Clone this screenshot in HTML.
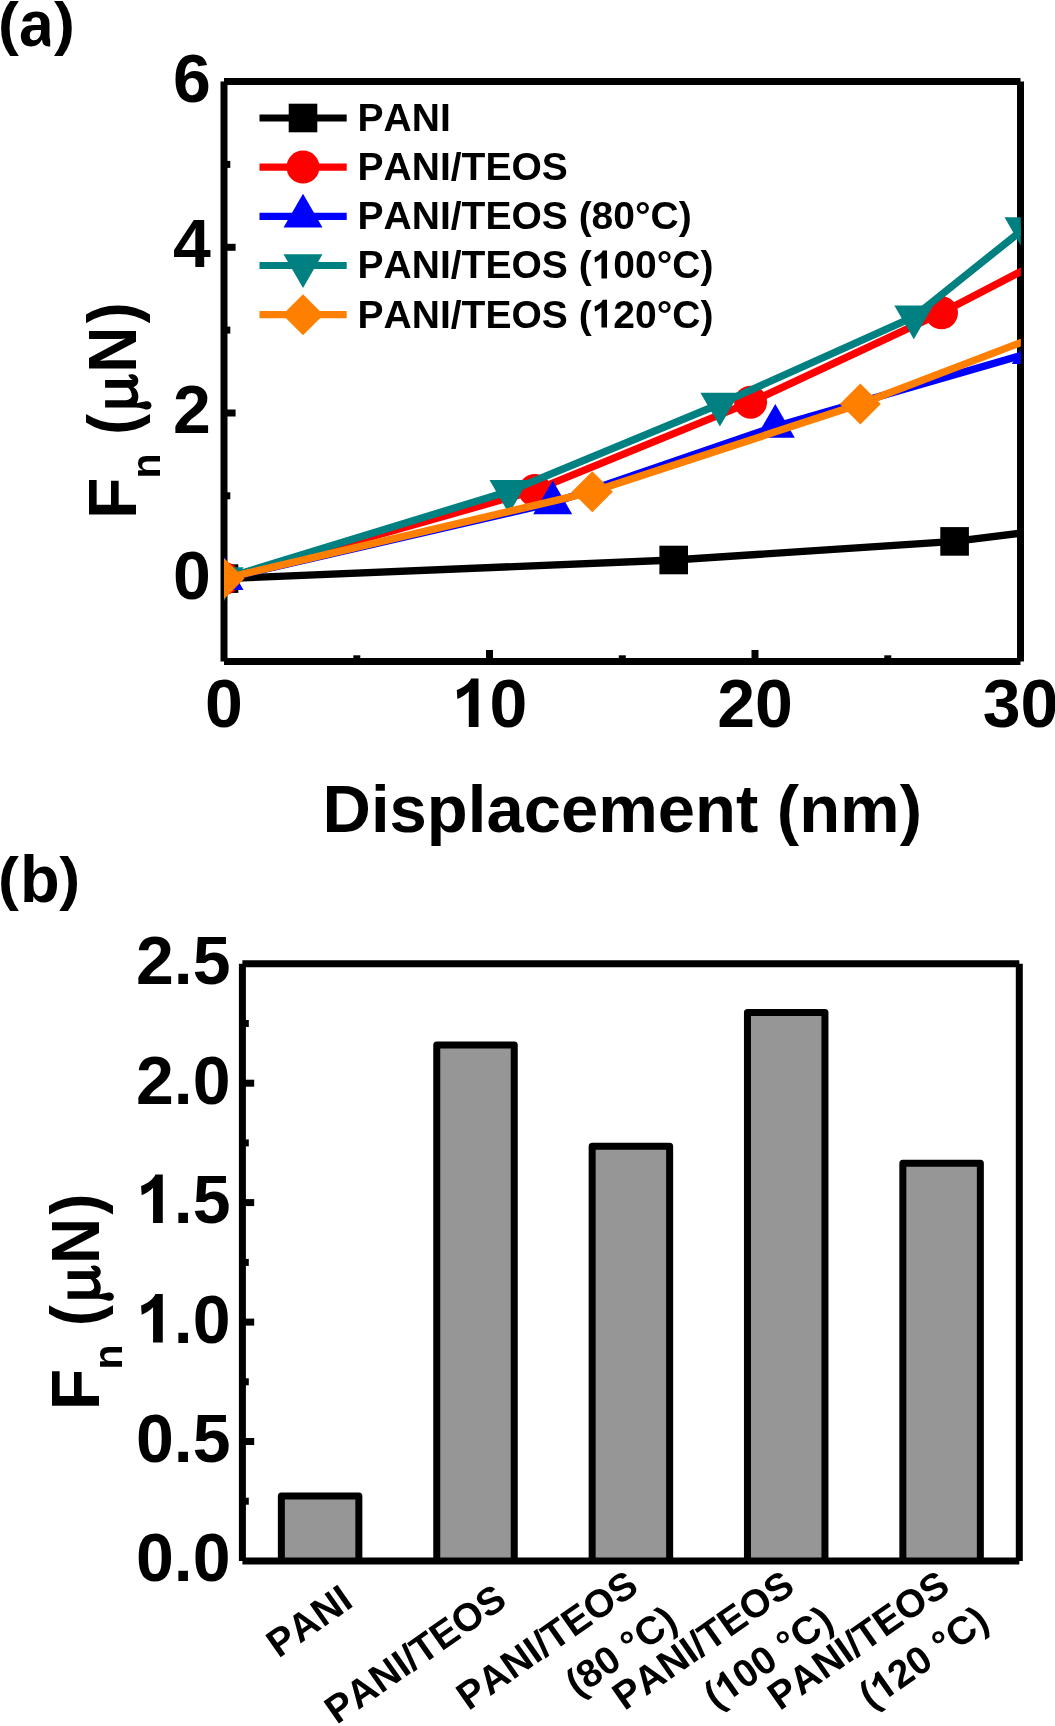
<!DOCTYPE html>
<html>
<head>
<meta charset="utf-8">
<title>Fn vs displacement</title>
<style>
html,body{margin:0;padding:0;background:#fff;}
body{width:1055px;height:1726px;overflow:hidden;position:relative;}
svg{position:absolute;left:0;top:0;display:block;will-change:transform;}
text{font-family:"Liberation Sans",sans-serif;font-weight:bold;fill:#000;font-kerning:none;}
.ax{stroke:#000;stroke-width:7;stroke-linecap:butt;fill:none;}
.tk{stroke:#000;stroke-width:7;stroke-linecap:butt;fill:none;}
.big{font-size:68px;}
.leg{font-size:39px;}
.ser{fill:none;stroke-width:7.4;stroke-linejoin:round;stroke-linecap:butt;}
.bar{fill:#969696;stroke:#000;stroke-width:7;stroke-linejoin:round;}
.xl{font-size:39px;}
</style>
</head>
<body>
<svg width="1055" height="1726" viewBox="0 0 1055 1726">
<defs>
<clipPath id="clipa"><rect x="15" y="0" width="35.2" height="60"/></clipPath>
<clipPath id="clipA"><rect x="224" y="81.5" width="796.8" height="580"/></clipPath>
<rect id="mSq" x="-14.3" y="-14.3" width="28.6" height="28.6"/>
<circle id="mCi" r="16.5"/>
<path id="mUp" d="M0,-22.5 L19.5,11.3 L-19.5,11.3 Z"/>
<path id="mDn" d="M0,22.5 L19.5,-11.3 L-19.5,-11.3 Z"/>
<path id="mDi" d="M0,-20.5 L20.5,0 L0,20.5 L-20.5,0 Z"/>
<g id="ytl">
 <text class="big" x="-4.9" y="0">F</text>
 <text x="35.7" y="23.6" style="font-size:41px">n</text>
 <text class="big" transform="translate(79.3,0) scale(0.92,1)">(</text>
 <path transform="translate(106.5,0)" d="M0,-31.2 H7.43 V-10.5 C7.6,-7 9.5,-4.6 11.5,-4.5 C15,-4.6 18.5,-6 19.9,-8.3 V-31.2 H27.5 V-3.3 C28,-4.5 29.5,-6.5 31.3,-7.5 L32.8,-7.9 C33.5,-6 33.8,-3 32,-0.5 C30.5,1.8 27,2.6 24.5,1.6 C22.5,0.8 21,-1 20.3,-3 C19,0 16,1.2 13.5,1.8 C10.5,2.4 7.5,1.9 4.4,0.5 C4.8,2.5 5.2,4.5 5.5,6.1 C5.9,8 6.3,9.2 6.3,10.7 C6.3,13.2 4.4,15.2 2.1,15.2 C-0.2,15.2 -2,13.2 -2,10.7 C-2,9.2 -1.3,7.8 -0.9,6.1 C-0.4,3.5 0,1 0,-2.2 Z" fill="#000"/>
 <text class="big" transform="translate(141.3,0) scale(0.94,1)">N</text>
 <text class="big" transform="translate(190.8,0) scale(0.92,1)">)</text>
</g>
<path id="g1" d="M26.8,0 V-48.5 H19.4 C17.6,-44 12.1,-39.5 5.1,-37 L5.7,-27.9 C10.1,-29.6 14.1,-32.2 17.1,-35.4 V0 Z"/>
</defs>
<rect x="0" y="0" width="1055" height="1726" fill="#fff"/>

<!-- ================= PANEL (a) ================= -->
<g id="panelA">
<!-- frame -->
<line class="ax" x1="224" y1="81.5" x2="224" y2="661.5"/>
<line class="ax" x1="224" y1="81.5" x2="1020.5" y2="81.5"/>
<line class="ax" x1="1020.5" y1="81.5" x2="1020.5" y2="661.5"/>
<line class="ax" x1="224" y1="661.5" x2="1020.5" y2="661.5"/>
<!-- y ticks -->
<g class="tk">
<line x1="224" y1="247.3" x2="235.6" y2="247.3"/>
<line x1="224" y1="413" x2="235.6" y2="413"/>
<line x1="224" y1="578.6" x2="235.6" y2="578.6"/>
<line x1="224" y1="164.4" x2="230.3" y2="164.4"/>
<line x1="224" y1="330.1" x2="230.3" y2="330.1"/>
<line x1="224" y1="495.8" x2="230.3" y2="495.8"/>
<!-- x ticks -->
<line x1="489.5" y1="661.5" x2="489.5" y2="650"/>
<line x1="755" y1="661.5" x2="755" y2="650"/>
<line x1="356.8" y1="661.5" x2="356.8" y2="655.3"/>
<line x1="622.3" y1="661.5" x2="622.3" y2="655.3"/>
<line x1="887.8" y1="661.5" x2="887.8" y2="655.3"/>
</g>
<!-- data -->
<g clip-path="url(#clipA)">
 <g fill="#000" stroke="#000">
  <polyline class="ser" points="224,578.6 673.7,560 954.6,541.4 1050,529.5"/>
  <g stroke="none"><use href="#mSq" x="224" y="578.6"/><use href="#mSq" x="673.7" y="560"/><use href="#mSq" x="954.6" y="541.4"/></g>
 </g>
 <g fill="#ff0000" stroke="#ff0000">
  <polyline class="ser" points="224,578.6 534.9,490.4 750.6,402.2 941.5,312.8 1050,256.4"/>
  <g stroke="none"><use href="#mCi" x="224" y="578.6"/><use href="#mCi" x="534.9" y="490.4"/><use href="#mCi" x="750.6" y="402.2"/><use href="#mCi" x="941.5" y="312.8"/></g>
 </g>
 <g fill="#0000ff" stroke="#0000ff">
  <polyline class="ser" points="224,578.6 552.7,502.9 775.3,426.5 1031.4,352.6"/>
  <g stroke="none"><use href="#mUp" x="224" y="578.6"/><use href="#mUp" x="552.7" y="502.9"/><use href="#mUp" x="775.3" y="426.5"/><use href="#mUp" x="1031.4" y="352.6"/></g>
 </g>
 <g fill="#008080" stroke="#008080">
  <polyline class="ser" points="224,578.6 509,491.3 719.9,404 913.8,316.8 1024,228.6"/>
  <g stroke="none"><use href="#mDn" x="224" y="578.6"/><use href="#mDn" x="509" y="491.3"/><use href="#mDn" x="719.9" y="404"/><use href="#mDn" x="913.8" y="316.8"/><use href="#mDn" x="1024" y="228.6"/></g>
 </g>
 <g fill="#ff8000" stroke="#ff8000">
  <polyline class="ser" points="224,578.6 592.3,491.8 860.3,404 1050,331.4"/>
  <g stroke="none"><use href="#mDi" x="224" y="578.6"/><use href="#mDi" x="592.3" y="491.8"/><use href="#mDi" x="860.3" y="404"/></g>
 </g>
</g>
<!-- legend -->
<g stroke-width="7.2">
 <line x1="259.5" y1="118" x2="346.7" y2="118" stroke="#000"/><use href="#mSq" x="303" y="118" fill="#000"/>
 <line x1="259.5" y1="167.1" x2="346.7" y2="167.1" stroke="#ff0000"/><use href="#mCi" x="303" y="167.1" fill="#ff0000"/>
 <line x1="259.5" y1="216.3" x2="346.7" y2="216.3" stroke="#0000ff"/><use href="#mUp" x="303" y="216.3" fill="#0000ff"/>
 <line x1="259.5" y1="265.5" x2="346.7" y2="265.5" stroke="#008080"/><use href="#mDn" x="303" y="265.5" fill="#008080"/>
 <line x1="259.5" y1="314.7" x2="346.7" y2="314.7" stroke="#ff8000"/><use href="#mDi" x="303" y="314.7" fill="#ff8000"/>
</g>
<g class="leg">
 <text x="357.6" y="131.2">PANI</text>
 <text x="357.6" y="180.3">PANI/TEOS</text>
 <text x="357.6" y="229.4">PANI/TEOS (80°C)</text>
 <text x="357.6" y="278.4">PANI/TEOS (</text><use href="#g1" transform="translate(591.64,278.4) scale(0.5735)"/><text x="613.32" y="278.4">00°C)</text>
 <text x="357.6" y="327.5">PANI/TEOS (</text><use href="#g1" transform="translate(591.64,327.5) scale(0.5735)"/><text x="613.32" y="327.5">20°C)</text>
</g>
<!-- y tick labels -->
<g class="big" text-anchor="end">
 <text x="210.9" y="102">6</text>
 <text x="210.9" y="267.3">4</text>
 <text x="210.9" y="433">2</text>
 <text x="210.9" y="598.6">0</text>
</g>
<!-- x tick labels -->
<g class="big" text-anchor="middle">
 <text x="224" y="727">0</text>
 <use href="#g1" x="451.69" y="727"/><text x="489.5" y="727" text-anchor="start">0</text>
 <text x="755" y="727">20</text>
 <text x="1020.5" y="727">30</text>
</g>
<text class="big" x="622.3" y="832" text-anchor="middle" style="font-size:67px">Displacement (nm)</text>
<!-- y title -->
<use href="#ytl" transform="translate(136.3,514.1) rotate(-90)"/>
<!-- panel label -->
<g style="font-size:59.7px"><text transform="translate(-2,43.7) scale(1.05,1)">(</text><text transform="translate(54,43.7) scale(1.05,1)">)</text></g>
<g clip-path="url(#clipa)"><text transform="translate(19,46.3) scale(0.96,1)" style="font-size:65px">a</text></g>
</g>

<!-- ================= PANEL (b) ================= -->
<g id="panelB">
<!-- bars -->
<g class="bar">
 <path d="M281.35,1560.9 V1496 H358.85 V1560.9"/>
 <path d="M436.75,1560.9 V1045 H514.25 V1560.9"/>
 <path d="M592.15,1560.9 V1146.3 H669.65 V1560.9"/>
 <path d="M747.45,1560.9 V1012.4 H824.95 V1560.9"/>
 <path d="M902.85,1560.9 V1163.3 H980.35 V1560.9"/>
</g>
<!-- frame -->
<line class="ax" x1="242.4" y1="963.8" x2="242.4" y2="1560.9"/>
<line class="ax" x1="242.4" y1="963.8" x2="1019.3" y2="963.8"/>
<line class="ax" x1="1019.3" y1="963.8" x2="1019.3" y2="1560.9"/>
<line class="ax" x1="242.4" y1="1560.9" x2="1019.3" y2="1560.9"/>
<!-- y ticks -->
<g class="tk">
 <line x1="242.4" y1="1083.2" x2="254.2" y2="1083.2"/>
 <line x1="242.4" y1="1202.6" x2="254.2" y2="1202.6"/>
 <line x1="242.4" y1="1322.1" x2="254.2" y2="1322.1"/>
 <line x1="242.4" y1="1441.5" x2="254.2" y2="1441.5"/>
 <line x1="242.4" y1="1023.5" x2="248.8" y2="1023.5"/>
 <line x1="242.4" y1="1142.9" x2="248.8" y2="1142.9"/>
 <line x1="242.4" y1="1262.4" x2="248.8" y2="1262.4"/>
 <line x1="242.4" y1="1381.8" x2="248.8" y2="1381.8"/>
 <line x1="242.4" y1="1501.2" x2="248.8" y2="1501.2"/>
</g>
<!-- y tick labels -->
<g class="big" text-anchor="end">
 <text x="230.5" y="984.3">2.5</text>
 <text x="230.5" y="1103.7">2.0</text>
 <use href="#g1" x="135.98" y="1223.1"/><text x="173.79" y="1223.1" text-anchor="start">.5</text>
 <use href="#g1" x="135.98" y="1342.6"/><text x="173.79" y="1342.6" text-anchor="start">.0</text>
 <text x="230.5" y="1462">0.5</text>
 <text x="230.5" y="1581.4">0.0</text>
</g>
<!-- y title -->
<use href="#ytl" transform="translate(98.7,1405.3) rotate(-90)"/>
<!-- x category labels (rotated) -->
<g class="xl" text-anchor="end">
 <g transform="translate(354.9,1605.4) rotate(-35)"><text x="0" y="0">PANI</text></g>
 <g transform="translate(508.9,1604.5) rotate(-35)"><text x="0" y="0">PANI/TEOS</text></g>
 <g transform="translate(640.6,1590.8) rotate(-35)"><text x="0" y="0">PANI/TEOS</text><text x="11.8" y="51.3">(80 °<tspan dx="0.6">C</tspan><tspan dx="0.3">)</tspan></text></g>
 <g transform="translate(796.7,1590.8) rotate(-35)"><text x="0" y="0">PANI/TEOS</text><text x="-134.73" y="51.3" text-anchor="start">(</text><use href="#g1" transform="translate(-121.74,51.3) scale(0.5735)"/><text x="-100.06" y="51.3" text-anchor="start">00 °<tspan dx="0.6">C</tspan><tspan dx="0.3">)</tspan></text></g>
 <g transform="translate(952,1590.8) rotate(-35)"><text x="0" y="0">PANI/TEOS</text><text x="-134.73" y="51.3" text-anchor="start">(</text><use href="#g1" transform="translate(-121.74,51.3) scale(0.5735)"/><text x="-100.06" y="51.3" text-anchor="start">20 °<tspan dx="0.6">C</tspan><tspan dx="0.3">)</tspan></text></g>
</g>
<!-- panel label -->
<g style="font-size:59.7px"><text transform="translate(-2,898.8) scale(1.05,1)">(</text><text transform="translate(59.3,898.8) scale(1.05,1)">)</text></g>
<text transform="translate(20,901.9) scale(1,1.03)" style="font-size:65px">b</text>
</g>
</svg>
</body>
</html>
